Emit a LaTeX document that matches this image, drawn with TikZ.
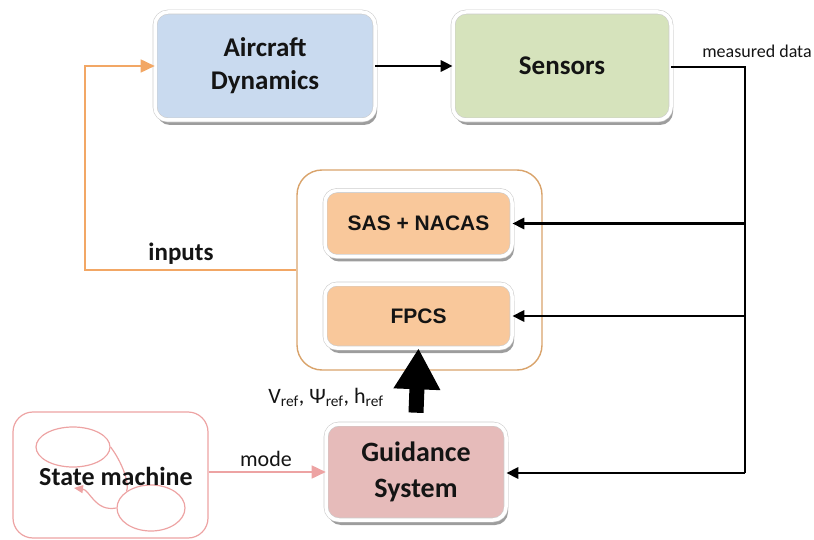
\documentclass[tikz,border=0pt]{standalone}
\usepackage{fontspec}
\setmainfont{Carlito}
\newfontfamily\arialb{Liberation Sans}
\usetikzlibrary{arrows.meta,shadows,calc,shapes.geometric}
\definecolor{bluef}{HTML}{C9DAEF}
\definecolor{greenf}{HTML}{D6E3BC}
\definecolor{orangef}{HTML}{F9C89B}
\definecolor{pinkf}{HTML}{E6BBBA}
\definecolor{orline}{HTML}{F2A765}
\definecolor{ctrlc}{HTML}{D9A36B}
\definecolor{pinkl}{HTML}{EDA3A3}
\begin{document}
\begin{tikzpicture}[x=1pt,y=-1pt,
  boxst/.style={rectangle, rounded corners=13pt, draw=black!20, double=white,
    double distance=3.5pt, line width=0.6pt,
    drop shadow={shadow xshift=2pt, shadow yshift=-5pt, fill=black!55, opacity=0.7},
    font=\fontsize{27}{33}\selectfont\bfseries, text=black!92, align=center, inner sep=0pt},
  ctrlbox/.style={rectangle, rounded corners=12pt, draw=black!20, double=white,
    double distance=3.5pt, line width=0.6pt, fill=orangef,
    drop shadow={shadow xshift=2pt, shadow yshift=-5pt, fill=black!55, opacity=0.7},
    font=\arialb\fontsize{21}{25}\selectfont\bfseries, text=black!92, inner sep=0pt},
  blkarrow/.style={line width=2.8pt, -{Triangle[length=12pt 0,width=11pt 0]}},
  blkline/.style={line width=2.8pt},
  orarrow/.style={draw=orline, line width=1.7pt, -{Triangle[length=14pt 0,width=13pt 0]}, color=orline},
  pkarrow/.style={draw=pinkl, line width=1.7pt, -{Triangle[length=14pt 0,width=13pt 0]}, color=pinkl},
  lbl/.style={font=\fontsize{22}{26}\selectfont, text=black!92, inner sep=0pt, anchor=base}
]
\useasboundingbox (0,0) rectangle (814,540);

% main blocks
\node[boxst, fill=bluef, minimum width=220pt, minimum height=108pt] (AD) at (265,66) {Aircraft\\Dynamics};
\node[boxst, fill=greenf, minimum width=218pt, minimum height=108pt] (S) at (562,66) {Sensors};

% controller group
\node[rectangle, rounded corners=25pt, draw=ctrlc, line width=1.4pt,
      minimum width=245pt, minimum height=200pt] (C) at (419.5,270) {};
\node[ctrlbox, minimum width=187pt, minimum height=66pt] (SAS) at (418.5,223.5) {SAS + NACAS};
\node[ctrlbox, minimum width=187pt, minimum height=64pt] (F) at (418.5,316) {FPCS};

% guidance
\node[boxst, fill=pinkf, minimum width=180pt, minimum height=96pt, font=\fontsize{28}{36}\selectfont\bfseries] (G) at (416,472) {Guidance\\System};

% state machine
\node[rectangle, rounded corners=20pt, draw=pinkl, line width=1.2pt,
      minimum width=195pt, minimum height=126pt] (SM) at (110.5,475) {};
\node[ellipse, draw=pinkl, line width=1.2pt, minimum width=74pt, minimum height=40pt, inner sep=0pt] (E1) at (73,447) {};
\node[ellipse, draw=pinkl, line width=1.2pt, minimum width=68pt, minimum height=46pt, inner sep=0pt] (E2) at (151,508) {};
\draw[draw=pinkl, line width=1.2pt] (E1.east) .. controls (122,462) and (130,484) .. (E2.north west);
\draw[draw=pinkl, line width=1.2pt, -{Triangle[length=9pt 0,width=8pt 0]}, color=pinkl]
  (E2.west) .. controls (95,512) and (90,490) .. (74,488);
\node[font=\fontsize{26}{30}\selectfont\bfseries, text=black!92, inner sep=0pt, anchor=base] (SMT) at (116,485) {State machine};

% sensor feedback
\coordinate (J0) at (745,67);
\coordinate (J3) at (745,473);
\draw[blkarrow] (AD.east) -- (S.west);
\draw[blkline] (S.east |- J0) -- (J0) -- (J3);
\draw[blkarrow] (J0 |- SAS.east) -- (SAS.east);
\draw[blkarrow] (J0 |- F.east) -- (F.east);
\draw[blkarrow] (J3) -- (G.east |- J3);
\node[font=\fontsize{18}{22}\selectfont, text=black!92, inner sep=0pt, anchor=base] (MD) at (757,58) {measured data};

% inputs loop
\coordinate (IN) at (85,270);
\draw[orarrow] (C.west) -- (IN) |- (AD.west);
\node[font=\fontsize{25}{30}\selectfont\bfseries, text=black!92, inner sep=0pt, anchor=base] (INL) at (181,261) {inputs};

% guidance to FPCS
\draw[line width=15pt, -{Triangle[length=41pt 0,width=44pt 0]}] ([yshift=11pt]G.north) -- (F.south);
\node[lbl] (VR) at (326,403) {V\textsubscript{ref}, Ψ\textsubscript{ref}, h\textsubscript{ref}};

% mode
\draw[pkarrow] (SM.east |- G.west) -- (G.west);
\node[lbl] (MO) at (266,466) {mode};
\end{tikzpicture}
\end{document}
